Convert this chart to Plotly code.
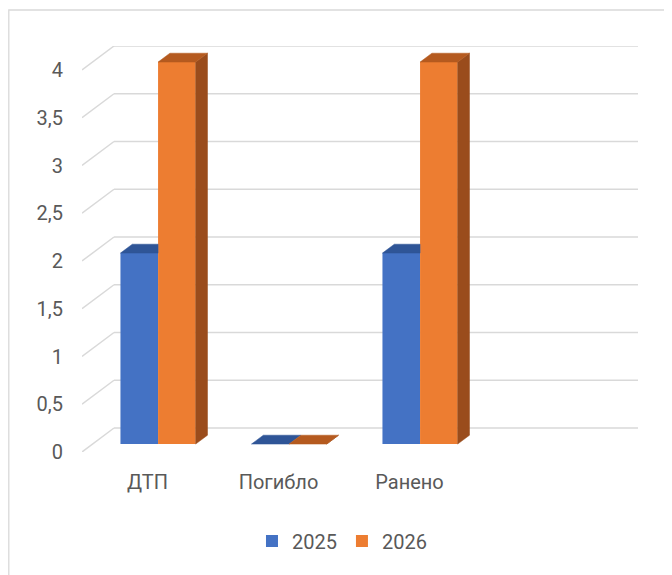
import plotly.graph_objects as go

# ---------------- data ----------------
categories = ["ДТП", "Погибло", "Ранено"]
series_names = ["2025", "2026"]
values_2025 = [2, 0, 2]
values_2026 = [4, 0, 4]
y_ticks = [0, 0.5, 1, 1.5, 2, 2.5, 3, 3.5, 4]

# ---------------- style ----------------
front_colors = ["#4472C4", "#ED7D31"]
top_colors = ["#2F5597", "#B55A1F"]
side_colors = ["#2C4F8C", "#9A4C1C"]
grid_color = "#D9D9D9"
text_color = "#595959"
FONT = "Roboto"

N_SLOTS = 4              # floor slots (last one empty, as in the source chart)
DEPTH_X = 32 / 131       # floor depth projected on x (axis units)
DEPTH_Y = 24 / 95.5      # floor depth projected on y (axis units)
BAR_D0, BAR_D1 = 0.33, 0.70   # bar front / back depth as fraction of floor depth
BAR_W = 0.287

series_values = [values_2025, values_2026]
n_series = len(series_values)

fdx, fdy = BAR_D0 * DEPTH_X, BAR_D0 * DEPTH_Y          # front-face shift
bdx, bdy = (BAR_D1 - BAR_D0) * DEPTH_X, (BAR_D1 - BAR_D0) * DEPTH_Y  # bar depth

fig = go.Figure()

# front faces as real bars
for s in range(n_series):
    fig.add_trace(go.Bar(
        x=[i + 0.5 for i in range(len(categories))],
        y=series_values[s],
        base=[fdy] * len(categories),
        offset=fdx - BAR_W * n_series / 2 + s * BAR_W,
        width=BAR_W,
        name=series_names[s],
        marker=dict(color=front_colors[s], line=dict(width=0)),
        hoverinfo="skip",
    ))

# top and side faces (pseudo-3D), computed from the same values
for i in range(len(categories)):
    for s in range(n_series):
        v = series_values[s][i]
        L = i + 0.5 + fdx - BAR_W * n_series / 2 + s * BAR_W
        R = L + BAR_W
        b = fdy
        h = fdy + v
        nxt = series_values[s + 1][i] if s + 1 < n_series else None
        # side face (only visible when not hidden by next bar)
        if nxt is None or nxt < v:
            fig.add_trace(go.Scatter(
                x=[R, R + bdx, R + bdx, R, R],
                y=[b, b + bdy, h + bdy, h, b],
                fill="toself", mode="lines",
                fillcolor=side_colors[s],
                line=dict(color=side_colors[s], width=0.5),
                showlegend=False, hoverinfo="skip"))
        # top face (clipped where the next, taller bar's front hides it)
        if nxt is not None and nxt > v:
            tx = [L, R, R, L + bdx, L]
            ty = [h, h, h + bdy, h + bdy, h]
        else:
            tx = [L, R, R + bdx, L + bdx, L]
            ty = [h, h, h + bdy, h + bdy, h]
        fig.add_trace(go.Scatter(
            x=tx, y=ty, fill="toself", mode="lines",
            fillcolor=top_colors[s],
            line=dict(color=top_colors[s], width=0.5),
            showlegend=False, hoverinfo="skip"))

# walls: gridlines on back wall + diagonals on side wall
shapes = []
for v in y_ticks:
    shapes.append(dict(type="line", xref="x", yref="y", layer="below",
                       x0=0, y0=v, x1=DEPTH_X, y1=v + DEPTH_Y,
                       line=dict(color=grid_color, width=1.5)))
    shapes.append(dict(type="line", xref="x", yref="y", layer="below",
                       x0=DEPTH_X, y0=v + DEPTH_Y, x1=N_SLOTS + DEPTH_X, y1=v + DEPTH_Y,
                       line=dict(color=grid_color, width=1.5)))
# chart-area border (partly outside the captured region)
shapes.append(dict(type="rect", xref="paper", yref="paper", layer="below",
                   x0=(8.8 - 82) / 556, x1=1.3, y0=-0.6, y1=(452 - 10) / 406,
                   line=dict(color=grid_color, width=1.3)))

fig.update_layout(
    width=664, height=567, autosize=False,
    margin=dict(l=74, r=34, t=38, b=123),
    paper_bgcolor="white", plot_bgcolor="white",
    separators=", ",
    font=dict(family=FONT, size=20, color=text_color),
    barmode="overlay",
    shapes=shapes,
    showlegend=True,
    legend=dict(orientation="h", x=0.4676, xanchor="center", y=-0.219, yanchor="middle",
                font=dict(family=FONT, size=20, color=text_color)),
    xaxis=dict(range=[0, N_SLOTS + DEPTH_X], tickvals=[i + 0.5 for i in range(len(categories))],
               ticktext=categories, showgrid=False, zeroline=False, showline=False,
               ticks="", ticklabelstandoff=16, fixedrange=True),
    yaxis=dict(range=[0, y_ticks[-1] + DEPTH_Y], tickvals=y_ticks, showgrid=False,
               zeroline=False, showline=False, ticks="", ticklabelstandoff=18, fixedrange=True),
)

fig.write_html("out.html")
